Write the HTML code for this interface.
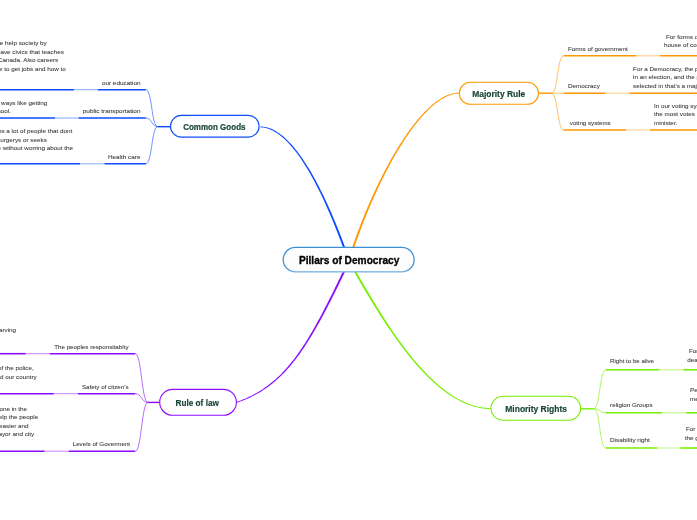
<!DOCTYPE html>
<html><head><meta charset="utf-8"><style>
html,body{margin:0;padding:0;background:#ffffff;width:697px;height:520px;overflow:hidden}
svg{display:block;font-family:"Liberation Sans", sans-serif;will-change:transform}
</style></head><body>
<svg width="697" height="520" viewBox="0 0 697 520">
<path d="M345.04,247.16 L343.91,244.12 L342.76,241.09 L341.60,238.06 L340.43,235.04 L339.24,232.03 L338.05,229.03 L336.84,226.04 L335.62,223.06 L334.38,220.10 L333.14,217.15 L331.88,214.22 L330.61,211.31 L329.33,208.43 L328.04,205.56 L326.74,202.72 L325.42,199.90 L324.10,197.12 L322.77,194.36 L321.43,191.63 L320.07,188.94 L318.71,186.28 L317.34,183.65 L315.96,181.06 L314.57,178.51 L313.17,176.01 L311.77,173.54 L310.35,171.12 L308.93,168.74 L307.50,166.41 L306.06,164.13 L304.62,161.90 L303.17,159.72 L301.71,157.60 L300.24,155.53 L298.77,153.51 L297.29,151.56 L295.80,149.66 L294.31,147.83 L292.81,146.06 L291.31,144.36 L289.80,142.72 L288.28,141.15 L286.76,139.65 L285.24,138.22 L283.71,136.86 L282.17,135.58 L280.63,134.38 L279.09,133.25 L277.54,132.21 L275.99,131.24 L274.44,130.36 L272.88,129.56 L271.31,128.85 L269.75,128.23 L268.18,127.70 L266.61,127.27 L265.03,126.92 L263.46,126.68 L261.88,126.53 L260.30,126.48 L260.30,127.32 L261.82,127.39 L263.34,127.56 L264.86,127.81 L266.38,128.16 L267.89,128.61 L269.41,129.14 L270.92,129.76 L272.43,130.47 L273.95,131.26 L275.45,132.13 L276.96,133.09 L278.47,134.13 L279.97,135.25 L281.47,136.45 L282.96,137.72 L284.46,139.07 L285.94,140.49 L287.43,141.98 L288.91,143.55 L290.39,145.18 L291.86,146.88 L293.33,148.64 L294.79,150.47 L296.25,152.35 L297.70,154.30 L299.14,156.31 L300.58,158.37 L302.02,160.49 L303.44,162.67 L304.86,164.89 L306.27,167.17 L307.68,169.50 L309.08,171.87 L310.47,174.29 L311.85,176.75 L313.22,179.25 L314.59,181.80 L315.94,184.38 L317.29,187.01 L318.63,189.66 L319.96,192.36 L321.28,195.08 L322.59,197.84 L323.89,200.62 L325.18,203.43 L326.46,206.27 L327.73,209.14 L328.99,212.02 L330.23,214.93 L331.47,217.86 L332.69,220.80 L333.91,223.76 L335.11,226.74 L336.30,229.73 L337.47,232.73 L338.64,235.74 L339.79,238.76 L340.93,241.78 L342.05,244.81 L343.16,247.84Z" fill="#0d4cff"/>
<path d="M354.15,247.82 L355.41,244.09 L356.71,240.36 L358.04,236.62 L359.40,232.88 L360.79,229.13 L362.21,225.39 L363.65,221.65 L365.13,217.92 L366.63,214.19 L368.16,210.48 L369.71,206.78 L371.29,203.10 L372.89,199.44 L374.51,195.80 L376.16,192.18 L377.82,188.59 L379.51,185.02 L381.21,181.49 L382.94,177.99 L384.68,174.53 L386.44,171.11 L388.21,167.72 L390.00,164.38 L391.81,161.09 L393.63,157.84 L395.46,154.65 L397.30,151.51 L399.16,148.42 L401.02,145.39 L402.90,142.42 L404.78,139.52 L406.68,136.68 L408.57,133.91 L410.48,131.21 L412.39,128.58 L414.31,126.02 L416.23,123.55 L418.15,121.15 L420.08,118.84 L422.00,116.61 L423.93,114.47 L425.86,112.42 L427.78,110.46 L429.70,108.60 L431.62,106.84 L433.54,105.17 L435.45,103.61 L437.36,102.15 L439.26,100.79 L441.15,99.55 L443.04,98.42 L444.91,97.40 L446.78,96.50 L448.63,95.72 L450.47,95.05 L452.30,94.51 L454.12,94.10 L455.92,93.81 L457.71,93.65 L459.49,93.62 L459.51,92.78 L457.67,92.78 L455.82,92.93 L453.95,93.21 L452.07,93.62 L450.18,94.15 L448.28,94.82 L446.37,95.60 L444.46,96.51 L442.53,97.53 L440.60,98.67 L438.66,99.92 L436.72,101.28 L434.77,102.74 L432.82,104.31 L430.87,105.99 L428.91,107.76 L426.96,109.63 L425.00,111.59 L423.04,113.65 L421.08,115.79 L419.12,118.03 L417.17,120.35 L415.22,122.75 L413.27,125.23 L411.32,127.78 L409.39,130.42 L407.45,133.12 L405.53,135.90 L403.61,138.74 L401.70,141.65 L399.80,144.62 L397.91,147.66 L396.03,150.75 L394.16,153.89 L392.31,157.09 L390.46,160.34 L388.63,163.64 L386.82,166.98 L385.02,170.37 L383.24,173.79 L381.47,177.26 L379.73,180.76 L378.00,184.30 L376.29,187.87 L374.60,191.46 L372.93,195.08 L371.29,198.73 L369.66,202.40 L368.07,206.08 L366.49,209.78 L364.94,213.50 L363.42,217.23 L361.92,220.97 L360.45,224.71 L359.01,228.46 L357.59,232.21 L356.21,235.96 L354.86,239.70 L353.54,243.45 L352.25,247.18Z" fill="#ff9800"/>
<path d="M343.00,271.37 L341.23,275.06 L339.48,278.69 L337.75,282.26 L336.04,285.78 L334.34,289.24 L332.67,292.65 L331.00,296.00 L329.36,299.29 L327.72,302.53 L326.10,305.72 L324.49,308.85 L322.89,311.93 L321.29,314.95 L319.71,317.92 L318.13,320.83 L316.55,323.70 L314.99,326.51 L313.42,329.26 L311.86,331.97 L310.30,334.62 L308.73,337.22 L307.17,339.78 L305.61,342.28 L304.04,344.73 L302.47,347.12 L300.89,349.47 L299.31,351.77 L297.72,354.02 L296.12,356.23 L294.51,358.38 L292.89,360.49 L291.26,362.54 L289.61,364.55 L287.96,366.51 L286.28,368.43 L284.60,370.30 L282.89,372.12 L281.17,373.90 L279.42,375.63 L277.66,377.31 L275.87,378.95 L274.06,380.55 L272.23,382.10 L270.37,383.61 L268.49,385.07 L266.58,386.49 L264.64,387.87 L262.68,389.20 L260.68,390.49 L258.65,391.74 L256.58,392.95 L254.49,394.12 L252.36,395.24 L250.19,396.33 L247.98,397.37 L245.74,398.38 L243.46,399.34 L241.14,400.27 L238.77,401.15 L236.36,402.00 L236.64,402.80 L239.07,401.97 L241.45,401.10 L243.80,400.18 L246.11,399.23 L248.38,398.23 L250.61,397.20 L252.80,396.12 L254.96,395.00 L257.09,393.84 L259.18,392.64 L261.24,391.39 L263.27,390.10 L265.27,388.77 L267.24,387.40 L269.18,385.98 L271.09,384.51 L272.98,383.01 L274.84,381.45 L276.68,379.86 L278.50,378.21 L280.29,376.53 L282.07,374.79 L283.82,373.01 L285.56,371.19 L287.27,369.32 L288.98,367.40 L290.66,365.43 L292.34,363.42 L293.99,361.35 L295.64,359.24 L297.28,357.09 L298.90,354.88 L300.52,352.63 L302.13,350.32 L303.73,347.97 L305.33,345.57 L306.92,343.11 L308.51,340.61 L310.10,338.06 L311.68,335.45 L313.27,332.80 L314.85,330.09 L316.44,327.33 L318.03,324.52 L319.63,321.66 L321.23,318.74 L322.84,315.77 L324.45,312.75 L326.07,309.68 L327.71,306.55 L329.35,303.37 L331.00,300.13 L332.67,296.84 L334.35,293.49 L336.05,290.09 L337.77,286.63 L339.50,283.11 L341.24,279.54 L343.01,275.92 L344.80,272.23Z" fill="#8c0cff"/>
<path d="M354.33,272.30 L355.97,275.12 L357.63,277.97 L359.32,280.86 L361.03,283.78 L362.77,286.73 L364.53,289.71 L366.32,292.71 L368.13,295.73 L369.96,298.77 L371.82,301.83 L373.70,304.89 L375.61,307.97 L377.54,311.05 L379.49,314.13 L381.46,317.22 L383.46,320.30 L385.48,323.38 L387.52,326.45 L389.59,329.50 L391.67,332.55 L393.78,335.57 L395.91,338.58 L398.06,341.56 L400.24,344.52 L402.43,347.44 L404.64,350.34 L406.88,353.20 L409.13,356.02 L411.41,358.81 L413.71,361.55 L416.02,364.24 L418.36,366.88 L420.71,369.48 L423.09,372.01 L425.48,374.49 L427.89,376.91 L430.32,379.26 L432.77,381.55 L435.24,383.77 L437.73,385.91 L440.23,387.98 L442.75,389.98 L445.29,391.88 L447.85,393.71 L450.43,395.45 L453.02,397.10 L455.63,398.65 L458.26,400.11 L460.90,401.47 L463.56,402.73 L466.23,403.88 L468.93,404.92 L471.63,405.85 L474.35,406.67 L477.09,407.37 L479.85,407.96 L482.61,408.42 L485.39,408.75 L488.19,408.95 L491.00,409.02 L491.00,408.18 L488.23,408.08 L485.48,407.86 L482.74,407.52 L480.02,407.05 L477.31,406.45 L474.62,405.74 L471.94,404.92 L469.27,403.98 L466.62,402.93 L463.99,401.78 L461.37,400.52 L458.77,399.16 L456.18,397.70 L453.61,396.15 L451.05,394.50 L448.51,392.76 L445.99,390.94 L443.49,389.03 L441.00,387.04 L438.53,384.97 L436.07,382.83 L433.63,380.62 L431.21,378.33 L428.81,375.98 L426.43,373.56 L424.07,371.09 L421.72,368.55 L419.39,365.96 L417.08,363.32 L414.79,360.63 L412.52,357.89 L410.27,355.11 L408.04,352.29 L405.83,349.42 L403.64,346.53 L401.48,343.60 L399.33,340.65 L397.20,337.66 L395.09,334.66 L393.01,331.63 L390.94,328.59 L388.90,325.53 L386.88,322.46 L384.88,319.38 L382.91,316.30 L380.95,313.21 L379.02,310.12 L377.11,307.04 L375.23,303.96 L373.37,300.89 L371.53,297.83 L369.71,294.78 L367.92,291.76 L366.15,288.75 L364.41,285.77 L362.69,282.81 L361.00,279.88 L359.33,276.99 L357.69,274.12 L356.07,271.30Z" fill="#74f000"/>
<line x1="157.8" y1="126.7" x2="171.0" y2="126.7" stroke="#0d4cff" stroke-width="1.4" stroke-opacity="1"/>
<path d="M145.8,89.7 C152.3,89.7 151.3,126.7 157.8,126.7" fill="none" stroke="#0d4cff" stroke-width="1.0" stroke-opacity="0.6"/>
<line x1="98.0" y1="89.7" x2="145.8" y2="89.7" stroke="#0d4cff" stroke-width="1.6" stroke-opacity="1"/>
<line x1="74.0" y1="89.7" x2="98.0" y2="89.7" stroke="#0d4cff" stroke-width="1.1" stroke-opacity="0.45"/>
<line x1="0" y1="89.7" x2="74.0" y2="89.7" stroke="#0d4cff" stroke-width="1.6" stroke-opacity="1"/>
<path d="M145.8,118.0 C152.3,118.0 151.3,126.7 157.8,126.7" fill="none" stroke="#0d4cff" stroke-width="1.0" stroke-opacity="0.6"/>
<line x1="78.5" y1="118.0" x2="145.8" y2="118.0" stroke="#0d4cff" stroke-width="1.6" stroke-opacity="1"/>
<line x1="55.0" y1="118.0" x2="78.5" y2="118.0" stroke="#0d4cff" stroke-width="1.1" stroke-opacity="0.45"/>
<line x1="0" y1="118.0" x2="55.0" y2="118.0" stroke="#0d4cff" stroke-width="1.6" stroke-opacity="1"/>
<path d="M145.8,163.8 C152.3,163.8 151.3,126.7 157.8,126.7" fill="none" stroke="#0d4cff" stroke-width="1.0" stroke-opacity="0.6"/>
<line x1="104.5" y1="163.8" x2="145.8" y2="163.8" stroke="#0d4cff" stroke-width="1.6" stroke-opacity="1"/>
<line x1="80.0" y1="163.8" x2="104.5" y2="163.8" stroke="#0d4cff" stroke-width="1.1" stroke-opacity="0.45"/>
<line x1="0" y1="163.8" x2="80.0" y2="163.8" stroke="#0d4cff" stroke-width="1.6" stroke-opacity="1"/>
<line x1="148.0" y1="402.4" x2="160.5" y2="402.4" stroke="#8c0cff" stroke-width="1.4" stroke-opacity="1"/>
<path d="M135.2,353.7 C141.7,353.7 141.5,402.4 148.0,402.4" fill="none" stroke="#8c0cff" stroke-width="1.0" stroke-opacity="0.6"/>
<line x1="49.8" y1="353.7" x2="135.2" y2="353.7" stroke="#8c0cff" stroke-width="1.6" stroke-opacity="1"/>
<line x1="25.7" y1="353.7" x2="49.8" y2="353.7" stroke="#8c0cff" stroke-width="1.1" stroke-opacity="0.45"/>
<line x1="0" y1="353.7" x2="25.7" y2="353.7" stroke="#8c0cff" stroke-width="1.6" stroke-opacity="1"/>
<path d="M135.2,393.7 C141.7,393.7 141.5,402.4 148.0,402.4" fill="none" stroke="#8c0cff" stroke-width="1.0" stroke-opacity="0.6"/>
<line x1="77.9" y1="393.7" x2="135.2" y2="393.7" stroke="#8c0cff" stroke-width="1.6" stroke-opacity="1"/>
<line x1="53.8" y1="393.7" x2="77.9" y2="393.7" stroke="#8c0cff" stroke-width="1.1" stroke-opacity="0.45"/>
<line x1="0" y1="393.7" x2="53.8" y2="393.7" stroke="#8c0cff" stroke-width="1.6" stroke-opacity="1"/>
<path d="M135.2,451.2 C141.7,451.2 141.5,402.4 148.0,402.4" fill="none" stroke="#8c0cff" stroke-width="1.0" stroke-opacity="0.6"/>
<line x1="68.7" y1="451.2" x2="135.2" y2="451.2" stroke="#8c0cff" stroke-width="1.6" stroke-opacity="1"/>
<line x1="44.6" y1="451.2" x2="68.7" y2="451.2" stroke="#8c0cff" stroke-width="1.1" stroke-opacity="0.45"/>
<line x1="0" y1="451.2" x2="44.6" y2="451.2" stroke="#8c0cff" stroke-width="1.6" stroke-opacity="1"/>
<line x1="538.5" y1="93.2" x2="551.5" y2="93.2" stroke="#ff9800" stroke-width="1.4" stroke-opacity="1"/>
<path d="M551.5,93.2 C558.0,93.2 557.2,55.8 563.7,55.8" fill="none" stroke="#ff9800" stroke-width="1.0" stroke-opacity="0.6"/>
<line x1="563.7" y1="55.8" x2="636.2" y2="55.8" stroke="#ff9800" stroke-width="1.6" stroke-opacity="1"/>
<line x1="636.2" y1="55.8" x2="660.2" y2="55.8" stroke="#ff9800" stroke-width="1.1" stroke-opacity="0.45"/>
<line x1="660.2" y1="55.8" x2="697" y2="55.8" stroke="#ff9800" stroke-width="1.6" stroke-opacity="1"/>
<path d="M551.5,93.2 C558.0,93.2 557.2,93.2 563.7,93.2" fill="none" stroke="#ff9800" stroke-width="1.0" stroke-opacity="0.6"/>
<line x1="563.7" y1="93.2" x2="605.2" y2="93.2" stroke="#ff9800" stroke-width="1.6" stroke-opacity="1"/>
<line x1="605.2" y1="93.2" x2="629.2" y2="93.2" stroke="#ff9800" stroke-width="1.1" stroke-opacity="0.45"/>
<line x1="629.2" y1="93.2" x2="697" y2="93.2" stroke="#ff9800" stroke-width="1.6" stroke-opacity="1"/>
<path d="M551.5,93.2 C558.0,93.2 557.2,130.0 563.7,130.0" fill="none" stroke="#ff9800" stroke-width="1.0" stroke-opacity="0.6"/>
<line x1="563.7" y1="130.0" x2="625.8" y2="130.0" stroke="#ff9800" stroke-width="1.6" stroke-opacity="1"/>
<line x1="625.8" y1="130.0" x2="650.0" y2="130.0" stroke="#ff9800" stroke-width="1.1" stroke-opacity="0.45"/>
<line x1="650.0" y1="130.0" x2="697" y2="130.0" stroke="#ff9800" stroke-width="1.6" stroke-opacity="1"/>
<line x1="580.0" y1="408.8" x2="593.7" y2="408.8" stroke="#74f000" stroke-width="1.4" stroke-opacity="1"/>
<path d="M593.7,408.8 C600.2,408.8 599.4,369.8 605.9,369.8" fill="none" stroke="#74f000" stroke-width="1.0" stroke-opacity="0.6"/>
<line x1="605.9" y1="369.8" x2="659.1" y2="369.8" stroke="#74f000" stroke-width="1.6" stroke-opacity="1"/>
<line x1="659.1" y1="369.8" x2="683.3" y2="369.8" stroke="#74f000" stroke-width="1.1" stroke-opacity="0.45"/>
<line x1="683.3" y1="369.8" x2="697" y2="369.8" stroke="#74f000" stroke-width="1.6" stroke-opacity="1"/>
<path d="M593.7,408.8 C600.2,408.8 599.4,412.8 605.9,412.8" fill="none" stroke="#74f000" stroke-width="1.0" stroke-opacity="0.6"/>
<line x1="605.9" y1="412.8" x2="662.0" y2="412.8" stroke="#74f000" stroke-width="1.6" stroke-opacity="1"/>
<line x1="662.0" y1="412.8" x2="686.2" y2="412.8" stroke="#74f000" stroke-width="1.1" stroke-opacity="0.45"/>
<line x1="686.2" y1="412.8" x2="697" y2="412.8" stroke="#74f000" stroke-width="1.6" stroke-opacity="1"/>
<path d="M593.7,408.8 C600.2,408.8 599.4,448.0 605.9,448.0" fill="none" stroke="#74f000" stroke-width="1.0" stroke-opacity="0.6"/>
<line x1="605.9" y1="448.0" x2="657.0" y2="448.0" stroke="#74f000" stroke-width="1.6" stroke-opacity="1"/>
<line x1="657.0" y1="448.0" x2="680.4" y2="448.0" stroke="#74f000" stroke-width="1.1" stroke-opacity="0.45"/>
<line x1="680.4" y1="448.0" x2="697" y2="448.0" stroke="#74f000" stroke-width="1.6" stroke-opacity="1"/>
<defs><linearGradient id="cg" x1="0" y1="247" x2="0" y2="273" gradientUnits="userSpaceOnUse"><stop offset="0" stop-color="#3d8fd6"/><stop offset="0.8" stop-color="#3d8fd6"/><stop offset="1" stop-color="#7db6e2"/></linearGradient></defs>
<rect x="283.2" y="247.4" width="130.90" height="24.50" rx="12.25" ry="12.25" fill="#fdfdfe" stroke="url(#cg)" stroke-width="1.25"/>
<rect x="170.5" y="115.4" width="88.60" height="21.70" rx="10.85" ry="10.85" fill="#ffffff" stroke="#0d4cff" stroke-width="1.1"/>
<rect x="459.3" y="82.3" width="79.20" height="22.00" rx="11.00" ry="11.00" fill="#ffffff" stroke="#ff9800" stroke-width="1.1"/>
<rect x="159.7" y="389.4" width="76.70" height="25.90" rx="12.95" ry="12.95" fill="#ffffff" stroke="#8c0cff" stroke-width="1.1"/>
<rect x="491.0" y="396.3" width="89.60" height="23.90" rx="11.95" ry="11.95" fill="#ffffff" stroke="#74f000" stroke-width="1.1"/>
<text x="298.9" y="263.6" font-size="10" fill="#000000" text-anchor="start" font-weight="bold" textLength="100.5" lengthAdjust="spacingAndGlyphs" stroke="#000000" stroke-width="0.3">Pillars of Democracy</text>
<text x="183.2" y="129.7" font-size="9.2" fill="#184733" text-anchor="start" font-weight="bold" textLength="62.3" lengthAdjust="spacingAndGlyphs" stroke="#184733" stroke-width="0.2">Common Goods</text>
<text x="472.2" y="96.8" font-size="9.5" fill="#184733" text-anchor="start" font-weight="bold" textLength="53.1" lengthAdjust="spacingAndGlyphs" stroke="#184733" stroke-width="0.2">Majority Rule</text>
<text x="175.5" y="406.2" font-size="9.4" fill="#184733" text-anchor="start" font-weight="bold" textLength="43.4" lengthAdjust="spacingAndGlyphs" stroke="#184733" stroke-width="0.2">Rule of law</text>
<text x="505.3" y="412.3" font-size="9.6" fill="#184733" text-anchor="start" font-weight="bold" textLength="61.7" lengthAdjust="spacingAndGlyphs" stroke="#184733" stroke-width="0.2">Minority Rights</text>
<text x="101.9" y="84.5" font-size="6.2" fill="#353535" text-anchor="start" font-weight="normal" textLength="38.6" lengthAdjust="spacingAndGlyphs" stroke="#353535" stroke-width="0.12" stroke-opacity="0.5">our education</text>
<text x="82.8" y="112.8" font-size="6.2" fill="#353535" text-anchor="start" font-weight="normal" textLength="57.7" lengthAdjust="spacingAndGlyphs" stroke="#353535" stroke-width="0.12" stroke-opacity="0.5">public transportation</text>
<text x="107.9" y="158.5" font-size="6.2" fill="#353535" text-anchor="start" font-weight="normal" textLength="32.6" lengthAdjust="spacingAndGlyphs" stroke="#353535" stroke-width="0.12" stroke-opacity="0.5">Health care</text>
<text x="567.9" y="50.9" font-size="6.2" fill="#353535" text-anchor="start" font-weight="normal" textLength="59.9" lengthAdjust="spacingAndGlyphs" stroke="#353535" stroke-width="0.12" stroke-opacity="0.5">Forms of government</text>
<text x="567.9" y="87.5" font-size="6.2" fill="#353535" text-anchor="start" font-weight="normal" textLength="32" lengthAdjust="spacingAndGlyphs" stroke="#353535" stroke-width="0.12" stroke-opacity="0.5">Democracy</text>
<text x="569.8" y="124.9" font-size="6.2" fill="#353535" text-anchor="start" font-weight="normal" textLength="40.9" lengthAdjust="spacingAndGlyphs" stroke="#353535" stroke-width="0.12" stroke-opacity="0.5">voting systems</text>
<text x="610.1" y="362.8" font-size="6.2" fill="#353535" text-anchor="start" font-weight="normal" textLength="43.9" lengthAdjust="spacingAndGlyphs" stroke="#353535" stroke-width="0.12" stroke-opacity="0.5">Right to be alive</text>
<text x="610.1" y="407.0" font-size="6.2" fill="#353535" text-anchor="start" font-weight="normal" textLength="42.5" lengthAdjust="spacingAndGlyphs" stroke="#353535" stroke-width="0.12" stroke-opacity="0.5">religion Groups</text>
<text x="610.0" y="441.7" font-size="6.2" fill="#353535" text-anchor="start" font-weight="normal" textLength="39.8" lengthAdjust="spacingAndGlyphs" stroke="#353535" stroke-width="0.12" stroke-opacity="0.5">Disability right</text>
<text x="54.2" y="349.0" font-size="6.2" fill="#353535" text-anchor="start" font-weight="normal" textLength="74.3" lengthAdjust="spacingAndGlyphs" stroke="#353535" stroke-width="0.12" stroke-opacity="0.5">The peoples responsitablty</text>
<text x="81.9" y="388.9" font-size="6.2" fill="#353535" text-anchor="start" font-weight="normal" textLength="46.6" lengthAdjust="spacingAndGlyphs" stroke="#353535" stroke-width="0.12" stroke-opacity="0.5">Safety of citzen&#39;s</text>
<text x="72.7" y="445.6" font-size="6.2" fill="#353535" text-anchor="start" font-weight="normal" textLength="57.4" lengthAdjust="spacingAndGlyphs" stroke="#353535" stroke-width="0.12" stroke-opacity="0.5">Levels of Goverment</text>
<text x="46.7" y="45.0" font-size="6.2" fill="#353535" text-anchor="end" font-weight="normal" textLength="51.47" lengthAdjust="spacingAndGlyphs" stroke="#353535" stroke-width="0.12" stroke-opacity="0.5">we help society by</text>
<text x="63.8" y="53.6" font-size="6.2" fill="#353535" text-anchor="end" font-weight="normal" textLength="66.88" lengthAdjust="spacingAndGlyphs" stroke="#353535" stroke-width="0.12" stroke-opacity="0.5">have civics that teaches</text>
<text x="58.2" y="61.9" font-size="6.2" fill="#353535" text-anchor="end" font-weight="normal" textLength="63.73" lengthAdjust="spacingAndGlyphs" stroke="#353535" stroke-width="0.12" stroke-opacity="0.5">f Canada. Also careers</text>
<text x="65.8" y="70.6" font-size="6.2" fill="#353535" text-anchor="end" font-weight="normal" textLength="74.95" lengthAdjust="spacingAndGlyphs" stroke="#353535" stroke-width="0.12" stroke-opacity="0.5">how to get jobs and how to</text>
<text x="47.3" y="105.2" font-size="6.2" fill="#353535" text-anchor="end" font-weight="normal" textLength="51.12" lengthAdjust="spacingAndGlyphs" stroke="#353535" stroke-width="0.12" stroke-opacity="0.5">s ways like getting</text>
<text x="11" y="112.9" font-size="6.2" fill="#353535" text-anchor="end" font-weight="normal" textLength="19.96" lengthAdjust="spacingAndGlyphs" stroke="#353535" stroke-width="0.12" stroke-opacity="0.5">school.</text>
<text x="72.2" y="133.1" font-size="6.2" fill="#353535" text-anchor="end" font-weight="normal" textLength="75.65" lengthAdjust="spacingAndGlyphs" stroke="#353535" stroke-width="0.12" stroke-opacity="0.5">lps a lot of people that dont</text>
<text x="46.8" y="141.8" font-size="6.2" fill="#353535" text-anchor="end" font-weight="normal" textLength="49.71" lengthAdjust="spacingAndGlyphs" stroke="#353535" stroke-width="0.12" stroke-opacity="0.5">surgerys or seeks</text>
<text x="73" y="149.9" font-size="6.2" fill="#353535" text-anchor="end" font-weight="normal" textLength="75.64" lengthAdjust="spacingAndGlyphs" stroke="#353535" stroke-width="0.12" stroke-opacity="0.5">e without worring about the</text>
<text x="16.1" y="331.6" font-size="6.2" fill="#353535" text-anchor="end" font-weight="normal" textLength="22.06" lengthAdjust="spacingAndGlyphs" stroke="#353535" stroke-width="0.12" stroke-opacity="0.5">starving</text>
<text x="33.7" y="370.2" font-size="6.2" fill="#353535" text-anchor="end" font-weight="normal" textLength="35.72" lengthAdjust="spacingAndGlyphs" stroke="#353535" stroke-width="0.12" stroke-opacity="0.5">of the police,</text>
<text x="36.7" y="378.6" font-size="6.2" fill="#353535" text-anchor="end" font-weight="normal" textLength="43.77" lengthAdjust="spacingAndGlyphs" stroke="#353535" stroke-width="0.12" stroke-opacity="0.5">and our country</text>
<text x="27.1" y="410.7" font-size="6.2" fill="#353535" text-anchor="end" font-weight="normal" textLength="27.67" lengthAdjust="spacingAndGlyphs" stroke="#353535" stroke-width="0.12" stroke-opacity="0.5">one in the</text>
<text x="38.2" y="418.7" font-size="6.2" fill="#353535" text-anchor="end" font-weight="normal" textLength="43.08" lengthAdjust="spacingAndGlyphs" stroke="#353535" stroke-width="0.12" stroke-opacity="0.5">help the people</text>
<text x="28.5" y="427.5" font-size="6.2" fill="#353535" text-anchor="end" font-weight="normal" textLength="29.42" lengthAdjust="spacingAndGlyphs" stroke="#353535" stroke-width="0.12" stroke-opacity="0.5">easier and</text>
<text x="34.1" y="435.8" font-size="6.2" fill="#353535" text-anchor="end" font-weight="normal" textLength="40.96" lengthAdjust="spacingAndGlyphs" stroke="#353535" stroke-width="0.12" stroke-opacity="0.5">mayor and city</text>
<text x="666" y="38.8" font-size="6.2" fill="#353535" text-anchor="start" font-weight="normal" textLength="45.86" lengthAdjust="spacingAndGlyphs" stroke="#353535" stroke-width="0.12" stroke-opacity="0.5">For forms of gov</text>
<text x="664.1" y="46.6" font-size="6.2" fill="#353535" text-anchor="start" font-weight="normal" textLength="53.22" lengthAdjust="spacingAndGlyphs" stroke="#353535" stroke-width="0.12" stroke-opacity="0.5">house of commons</text>
<text x="633.1" y="70.6" font-size="6.2" fill="#353535" text-anchor="start" font-weight="normal" textLength="80.77" lengthAdjust="spacingAndGlyphs" stroke="#353535" stroke-width="0.12" stroke-opacity="0.5">For a Democracy, the people</text>
<text x="633.1" y="78.6" font-size="6.2" fill="#353535" text-anchor="start" font-weight="normal" textLength="82.65" lengthAdjust="spacingAndGlyphs" stroke="#353535" stroke-width="0.12" stroke-opacity="0.5">in an election, and the person</text>
<text x="633.1" y="87.5" font-size="6.2" fill="#353535" text-anchor="start" font-weight="normal" textLength="75.78" lengthAdjust="spacingAndGlyphs" stroke="#353535" stroke-width="0.12" stroke-opacity="0.5">selected in that&#39;s a majority</text>
<text x="653.9" y="107.8" font-size="6.2" fill="#353535" text-anchor="start" font-weight="normal" textLength="56.37" lengthAdjust="spacingAndGlyphs" stroke="#353535" stroke-width="0.12" stroke-opacity="0.5">In our voting system</text>
<text x="653.9" y="116.0" font-size="6.2" fill="#353535" text-anchor="start" font-weight="normal" textLength="40.97" lengthAdjust="spacingAndGlyphs" stroke="#353535" stroke-width="0.12" stroke-opacity="0.5">the most votes</text>
<text x="653.9" y="124.9" font-size="6.2" fill="#353535" text-anchor="start" font-weight="normal" textLength="23.45" lengthAdjust="spacingAndGlyphs" stroke="#353535" stroke-width="0.12" stroke-opacity="0.5">minister.</text>
<text x="689" y="353.2" font-size="6.2" fill="#353535" text-anchor="start" font-weight="normal" textLength="9.45" lengthAdjust="spacingAndGlyphs" stroke="#353535" stroke-width="0.12" stroke-opacity="0.5">For</text>
<text x="687.2" y="361.8" font-size="6.2" fill="#353535" text-anchor="start" font-weight="normal" textLength="15.76" lengthAdjust="spacingAndGlyphs" stroke="#353535" stroke-width="0.12" stroke-opacity="0.5">death</text>
<text x="690" y="391.9" font-size="6.2" fill="#353535" text-anchor="start" font-weight="normal" textLength="19.62" lengthAdjust="spacingAndGlyphs" stroke="#353535" stroke-width="0.12" stroke-opacity="0.5">People</text>
<text x="690" y="400.5" font-size="6.2" fill="#353535" text-anchor="start" font-weight="normal" textLength="26.25" lengthAdjust="spacingAndGlyphs" stroke="#353535" stroke-width="0.12" stroke-opacity="0.5">members</text>
<text x="686" y="431.0" font-size="6.2" fill="#353535" text-anchor="start" font-weight="normal" textLength="9.45" lengthAdjust="spacingAndGlyphs" stroke="#353535" stroke-width="0.12" stroke-opacity="0.5">For</text>
<text x="684.8" y="439.6" font-size="6.2" fill="#353535" text-anchor="start" font-weight="normal" textLength="20.66" lengthAdjust="spacingAndGlyphs" stroke="#353535" stroke-width="0.12" stroke-opacity="0.5">the gov</text>
</svg></body></html>
